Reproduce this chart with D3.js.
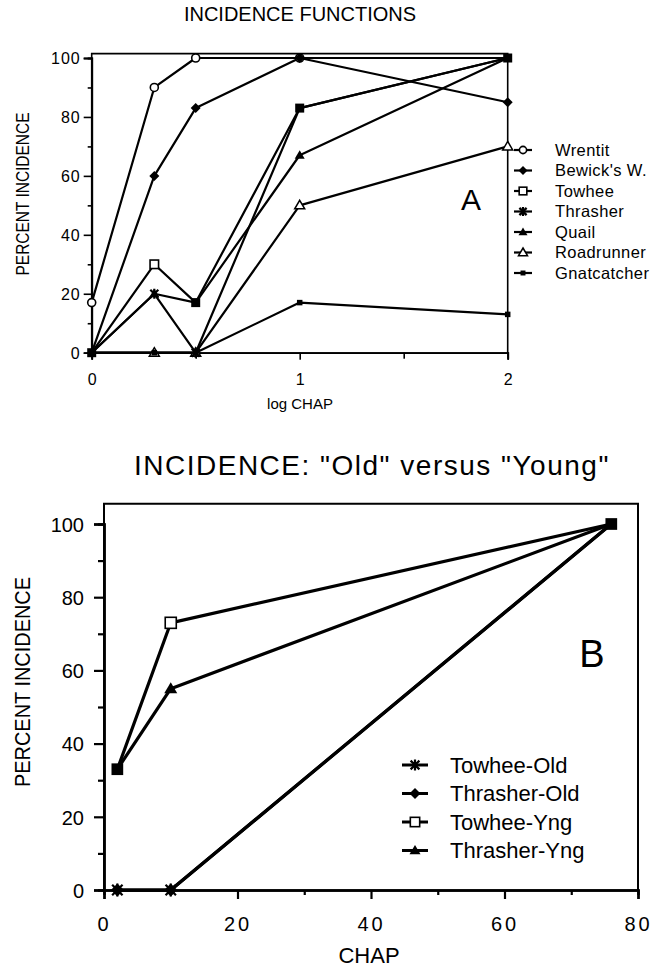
<!DOCTYPE html>
<html><head><meta charset="utf-8">
<script src="https://cdn.jsdelivr.net/npm/d3@7"></script>
<style>
body{margin:0;background:#fff;}
svg text{font-family:"Liberation Sans",Arial,Helvetica,sans-serif;fill:#000;}
</style></head>
<body><svg id="c" width="652" height="968"></svg>
<script>
// ---------- Panel A data ----------
const logChap = [0, 0.301, 0.5, 1, 2];
const seriesA = ["Wrentit","Bewick's W.","Towhee","Thrasher","Quail","Roadrunner","Gnatcatcher"];
const wrentit     = [17, 90, 100, 100, 100];
const bewicks     = [0, 60, 83, 100, 85];
const towhee      = [0, 30, 17, 83, 100];
const thrasher    = [0, 20, 0, 83, 100];
const quail       = [0, 20, 17, 67, 100];
const roadrunner  = [0, 0, 0, 50, 70];
const gnatcatcher = [0, 0, 0, 17, 13];
const markersA = ["circleOpen","diamond","squareOpen","star","triangle","triangleOpen","squareSmall"];
const xTicksA = [0, 1, 2];
const xMinorA = [0.5, 1.5];
const yTicks = [0, 20, 40, 60, 80, 100];
const yMinor = [10, 30, 50, 70, 90];

// ---------- Panel B data ----------
const chap = [2, 10, 76];
const seriesB = ["Towhee-Old","Thrasher-Old","Towhee-Yng","Thrasher-Yng"];
const towheeOld   = [0, 0, 100];
const thrasherOld = [0, 0, 100];
const towheeYng   = [33, 73, 100];
const thrasherYng = [33, 55, 100];
const markersB = ["star","diamond","squareOpen","triangle"];
const xTicksB = [0, 20, 40, 60, 80];
const xMinorB = [10, 30, 50, 70];

const svg = d3.select("#c");

function marker(g, type, x, y, s) {
  const h = s / 2;
  if (type === "circleOpen") {
    g.append("circle").attr("cx", x).attr("cy", y).attr("r", h*0.8)
      .attr("fill", "#fff").attr("stroke", "#000").attr("stroke-width", 1.6);
  } else if (type === "diamond") {
    g.append("path").attr("d", `M${x},${y-h}L${x+h},${y}L${x},${y+h}L${x-h},${y}Z`).attr("fill", "#000");
  } else if (type === "squareOpen") {
    g.append("rect").attr("x", x-h*0.85).attr("y", y-h*0.85).attr("width", s*0.85).attr("height", s*0.85)
      .attr("fill", "#fff").attr("stroke", "#000").attr("stroke-width", 1.6);
  } else if (type === "squareFilled") {
    g.append("rect").attr("x", x-h*0.9).attr("y", y-h*0.9).attr("width", s*0.9).attr("height", s*0.9).attr("fill", "#000");
  } else if (type === "squareSmall") {
    g.append("rect").attr("x", x-h*0.55).attr("y", y-h*0.55).attr("width", s*0.55).attr("height", s*0.55).attr("fill", "#000");
  } else if (type === "star") {
    const k = h*0.8;
    g.append("path").attr("d", `M${x-k},${y-k}L${x+k},${y+k}M${x-k},${y+k}L${x+k},${y-k}M${x},${y-h}L${x},${y+h}`)
      .attr("stroke", "#000").attr("stroke-width", 2.2);
  } else if (type === "triangle") {
    g.append("path").attr("d", `M${x},${y-h}L${x+h},${y+h*0.7}L${x-h},${y+h*0.7}Z`).attr("fill", "#000");
  } else if (type === "triangleOpen") {
    g.append("path").attr("d", `M${x},${y-h}L${x+h},${y+h*0.7}L${x-h},${y+h*0.7}Z`)
      .attr("fill", "#fff").attr("stroke", "#000").attr("stroke-width", 1.5);
  }
}

// draw markers; where an open square coincides with another series' marker, the
// overprinted symbols read as a solid square (as in the original plot)
function drawMarkers(g, xs, data, types, xScale, yScale, size) {
  const key = (i, v) => xs[i] + "|" + v;
  const groups = new Map();
  data.forEach((vals, si) => vals.forEach((v, i) => {
    const k = key(i, v);
    if (!groups.has(k)) groups.set(k, []);
    groups.get(k).push(si);
  }));
  const order = types.map((t, i) => i).sort((a, b) => {
    const open = t => /Open/.test(t) ? 0 : 1;
    return open(types[a]) - open(types[b]);
  });
  order.forEach(si => data[si].forEach((v, i) => {
    const members = groups.get(key(i, v));
    const solid = members.length > 1 && members.some(m => types[m] === "squareOpen");
    if (solid) {
      if (si === members[0]) marker(g, "squareFilled", xScale(xs[i]), yScale(v), size);
    } else {
      marker(g, types[si], xScale(xs[i]), yScale(v), size);
    }
  }));
}

// ================= PANEL A =================
const xA = d3.scaleLinear().domain([0, 2]).range([91.7, 507.7]);
const yA = d3.scaleLinear().domain([0, 100]).range([352.7, 58]);
const gA = svg.append("g");

gA.append("path").attr("d", `M${xA(0)},${yA(0)}L${xA(0)},${yA(101.5)}L${xA(2)},${yA(101.5)}L${xA(2)},${yA(0)}`)
  .attr("fill", "none").attr("stroke", "#000").attr("stroke-width", 1.6);

const axA_y = gA.append("g").attr("transform", `translate(${xA(0)},0)`)
  .call(d3.axisLeft(yA).tickValues(yTicks).tickSize(8).tickPadding(3).tickFormat(d3.format("d")));
const axA_ym = gA.append("g").attr("transform", `translate(${xA(0)},0)`)
  .call(d3.axisLeft(yA).tickValues(yMinor).tickSize(4).tickFormat(""));
const axA_x = gA.append("g").attr("transform", `translate(0,${yA(0)})`)
  .call(d3.axisBottom(xA).tickValues(xTicksA).tickSize(7).tickPadding(14).tickFormat(d3.format("d")));
const axA_xm = gA.append("g").attr("transform", `translate(0,${yA(0)})`)
  .call(d3.axisBottom(xA).tickValues(xMinorA).tickSize(6).tickFormat(""));
[axA_y, axA_ym, axA_x, axA_xm].forEach(a => {
  a.select(".domain").attr("stroke", "#000").attr("stroke-width", 1.8);
  a.selectAll(".tick line").attr("stroke", "#000").attr("stroke-width", 1.6);
});
axA_y.selectAll("text").style("font-size", "16px").style("letter-spacing", "1px").attr("dy", "0.36em");
axA_x.selectAll("text").style("font-size", "16px");

const dataA = [wrentit, bewicks, towhee, thrasher, quail, roadrunner, gnatcatcher];
const lineA = d3.line().x((d, i) => xA(logChap[i])).y(d => yA(d));
dataA.forEach(vals => {
  gA.append("path").datum(vals).attr("d", lineA).attr("fill", "none")
    .attr("stroke", "#000").attr("stroke-width", 2.2).attr("stroke-linejoin", "round");
});
drawMarkers(gA, logChap, dataA, markersA, xA, yA, 10);

gA.append("text").attr("x", 300).attr("y", 21).attr("text-anchor", "middle")
  .style("font-size", "20px").text("INCIDENCE FUNCTIONS");
gA.append("text").attr("x", 300).attr("y", 409).attr("text-anchor", "middle")
  .style("font-size", "15px").text("log CHAP");
gA.append("text").attr("transform", "translate(29,194) rotate(-90)").attr("text-anchor", "middle")
  .attr("textLength", 163).attr("lengthAdjust", "spacingAndGlyphs")
  .style("font-size", "19px").text("PERCENT INCIDENCE");
gA.append("text").attr("x", 471).attr("y", 210).attr("text-anchor", "middle")
  .style("font-size", "30px").text("A");

const legA = gA.append("g");
seriesA.forEach((name, i) => {
  const y = 150 + i * 20.5;
  legA.append("line").attr("x1", 514).attr("x2", 532).attr("y1", y).attr("y2", y)
    .attr("stroke", "#000").attr("stroke-width", 2.2);
  marker(legA, markersA[i], 523, y, 9);
  legA.append("text").attr("x", 555).attr("y", y).attr("dy", "0.36em")
    .style("font-size", "16.5px").style("letter-spacing", "0.4px").text(name);
});

// ================= PANEL B =================
const xB = d3.scaleLinear().domain([0, 80]).range([104, 638]);
const yB = d3.scaleLinear().domain([0, 100]).range([890, 524]);
const gB = svg.append("g");

gB.append("path").attr("d", `M${xB(0)},${yB(0)}L${xB(0)},${yB(105.5)}L${xB(80)},${yB(105.5)}L${xB(80)},${yB(0)}`)
  .attr("fill", "none").attr("stroke", "#000").attr("stroke-width", 2);

const axB_y = gB.append("g").attr("transform", `translate(${xB(0)},0)`)
  .call(d3.axisLeft(yB).tickValues(yTicks).tickSize(10).tickPadding(10).tickFormat(d3.format("d")));
const axB_ym = gB.append("g").attr("transform", `translate(${xB(0)},0)`)
  .call(d3.axisLeft(yB).tickValues(yMinor).tickSize(6).tickFormat(""));
const axB_x = gB.append("g").attr("transform", `translate(0,${yB(0)})`)
  .call(d3.axisBottom(xB).tickValues(xTicksB).tickSize(9).tickPadding(18).tickFormat(d3.format("d")));
const axB_xm = gB.append("g").attr("transform", `translate(0,${yB(0)})`)
  .call(d3.axisBottom(xB).tickValues(xMinorB).tickSize(5).tickFormat(""));
[axB_y, axB_ym, axB_x, axB_xm].forEach(a => {
  a.select(".domain").attr("stroke", "#000").attr("stroke-width", 2.4);
  a.selectAll(".tick line").attr("stroke", "#000").attr("stroke-width", 2.2);
});
axB_y.selectAll("text").style("font-size", "20px").attr("dy", "0.36em");
axB_x.selectAll("text").style("font-size", "20px").style("letter-spacing", "3px");

const dataB = [towheeOld, thrasherOld, towheeYng, thrasherYng];
const lineB = d3.line().x((d, i) => xB(chap[i])).y(d => yB(d));
dataB.forEach(vals => {
  gB.append("path").datum(vals).attr("d", lineB).attr("fill", "none")
    .attr("stroke", "#000").attr("stroke-width", 3.2).attr("stroke-linejoin", "round");
});
drawMarkers(gB, chap, dataB, markersB, xB, yB, 13);

gB.append("text").attr("x", 134).attr("y", 475)
  .style("font-size", "28px").style("letter-spacing", "1.5px").text('INCIDENCE:  "Old" versus "Young"');
gB.append("text").attr("x", 369).attr("y", 963).attr("text-anchor", "middle")
  .style("font-size", "22px").text("CHAP");
gB.append("text").attr("transform", "translate(30,682) rotate(-90)").attr("text-anchor", "middle")
  .attr("textLength", 210).attr("lengthAdjust", "spacingAndGlyphs")
  .style("font-size", "22px").text("PERCENT INCIDENCE");
gB.append("text").attr("x", 592).attr("y", 667).attr("text-anchor", "middle")
  .style("font-size", "38px").text("B");

const legB = gB.append("g");
seriesB.forEach((name, i) => {
  const y = 765 + i * 28.5;
  legB.append("line").attr("x1", 402).attr("x2", 428).attr("y1", y).attr("y2", y)
    .attr("stroke", "#000").attr("stroke-width", 3);
  marker(legB, markersB[i], 415, y, 11);
  legB.append("text").attr("x", 450).attr("y", y).attr("dy", "0.36em")
    .style("font-size", "22px").text(name);
});
</script></body></html>
